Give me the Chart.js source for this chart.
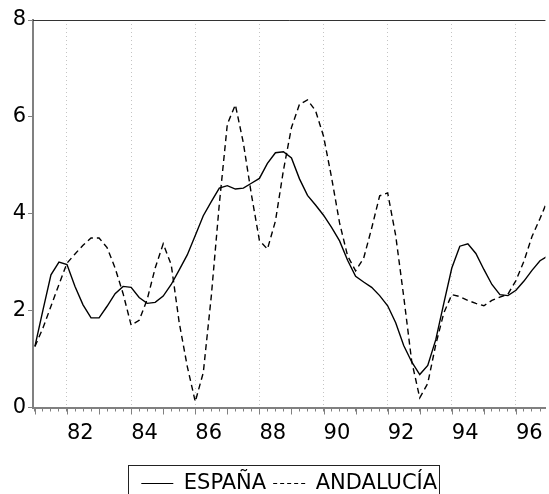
<!DOCTYPE html>
<html>
<head>
<meta charset="utf-8">
<script src="https://cdn.jsdelivr.net/npm/chart.js@4/dist/chart.umd.min.js"></script>
<style>
  html, body { margin: 0; padding: 0; background: #fff; }
  #wrap { width: 549px; height: 494px; }
</style>
</head>
<body>
<div id="wrap"><canvas id="chart"></canvas></div>
<script>
// quarterly series, first observation 1981Q1
const startYear = 1981;
const espana = [
  1.26, 2.01, 2.74, 3.00, 2.95, 2.50, 2.12, 1.85, 1.85, 2.09,
  2.35, 2.50, 2.48, 2.27, 2.15, 2.17, 2.30, 2.54, 2.84, 3.15,
  3.55, 3.96, 4.25, 4.53, 4.58, 4.51, 4.53, 4.63, 4.73, 5.04,
  5.26, 5.28, 5.15, 4.72, 4.38, 4.18, 3.97, 3.72, 3.44, 3.04,
  2.71, 2.59, 2.48, 2.31, 2.10, 1.75, 1.28, 0.94, 0.68, 0.87,
  1.40, 2.15, 2.88, 3.33, 3.38, 3.18, 2.85, 2.54, 2.33, 2.31,
  2.42, 2.61, 2.83, 3.03, 3.13
];
const andalucia = [
  1.26, 1.64, 2.09, 2.54, 2.98, 3.17, 3.35, 3.50, 3.50, 3.30,
  2.88, 2.35, 1.70, 1.80, 2.23, 2.88, 3.38, 2.95, 1.75, 0.85,
  0.12, 0.72, 2.30, 4.20, 5.85, 6.25, 5.46, 4.40, 3.45, 3.27,
  3.85, 4.90, 5.78, 6.26, 6.35, 6.13, 5.60, 4.75, 3.81, 3.13,
  2.82, 3.08, 3.70, 4.37, 4.43, 3.55, 2.29, 0.95, 0.20, 0.50,
  1.30, 1.95, 2.33, 2.29, 2.21, 2.15, 2.10, 2.21, 2.28, 2.34,
  2.62, 3.02, 3.53, 3.90, 4.30
];
const yTicks = [0, 2, 4, 6, 8];
const labelYears = [1982, 1984, 1986, 1988, 1990, 1992, 1994, 1996];
const xMin = 1980.94;
const xMax = 1996.92;

const toPoints = (arr) => arr.map((v, i) => ({ x: startYear + i / 4, y: v }));
const quarterTicks = espana.slice(0, 64).map((v, i) => ({ value: startYear + i / 4 }));

Chart.defaults.font.family = "'DejaVu Sans', sans-serif";
Chart.defaults.font.size = 21;
Chart.defaults.color = "#000";

// plot box top edge, longer year ticks, legend frame
const framePlugin = {
  id: "frame",
  afterDraw(chart) {
    const { ctx, chartArea: a, scales } = chart;
    ctx.save();
    ctx.strokeStyle = "#333";
    ctx.lineWidth = 1;
    ctx.beginPath();
    ctx.moveTo(a.left, a.top + 0.5);
    ctx.lineTo(a.right, a.top + 0.5);
    ctx.stroke();

    ctx.strokeStyle = "#808080";
    for (let yr = Math.ceil(xMin); yr <= xMax; yr++) {
      const px = Math.round(scales.x.getPixelForValue(yr)) + 0.5;
      ctx.beginPath();
      ctx.moveTo(px, a.bottom);
      ctx.lineTo(px, a.bottom + 7);
      ctx.stroke();
    }

    const boxes = chart.legend.legendHitBoxes;
    if (boxes && boxes.length) {
      const first = boxes[0];
      const last = boxes[boxes.length - 1];
      ctx.strokeStyle = "#222";
      ctx.strokeRect(
        Math.round(first.left - 13) + 0.5,
        465.5,
        Math.round(last.left + last.width - first.left + 15),
        40
      );
    }
    ctx.restore();
  },
};

new Chart(document.getElementById("chart").getContext("2d"), {
  type: "line",
  data: {
    datasets: [
      {
        label: "ESPAÑA",
        data: toPoints(espana),
        borderColor: "#000",
        backgroundColor: "#000",
        borderWidth: 1.4,
        pointRadius: 0,
        tension: 0,
      },
      {
        label: "ANDALUCÍA",
        data: toPoints(andalucia),
        borderColor: "#000",
        backgroundColor: "#000",
        borderWidth: 1.4,
        borderDash: [6, 4],
        pointRadius: 0,
        tension: 0,
      },
    ],
  },
  options: {
    responsive: true,
    maintainAspectRatio: false,
    animation: false,
    layout: { padding: { top: 20, right: 0, bottom: -10, left: 0 } },
    plugins: {
      legend: {
        position: "bottom",
        fullSize: false,
        labels: {
          usePointStyle: true,
          pointStyle: "line",
          pointStyleWidth: 32,
          padding: 7,
          color: "#000",
          font: { size: 21 },
          generateLabels: (chart) => {
            const items = Chart.defaults.plugins.legend.labels.generateLabels(chart);
            items.forEach((item) => {
              const ds = chart.data.datasets[item.datasetIndex];
              item.lineDash = ds.borderDash ? [4, 3] : [];
              item.strokeStyle = "#000";
              item.lineWidth = 1.2;
            });
            return items;
          },
        },
      },
      tooltip: { enabled: false },
    },
    scales: {
      x: {
        type: "linear",
        min: xMin,
        max: xMax,
        afterBuildTicks: (scale) => {
          scale.ticks = quarterTicks.map((t) => ({ value: t.value }));
        },
        afterFit: (scale) => {
          scale.height = 58.5;
        },
        grid: {
          drawOnChartArea: true,
          drawTicks: true,
          tickLength: 4,
          lineWidth: 1,
          color: (c) =>
            labelYears.includes(c.tick && c.tick.value) ? "#c4c4c4" : "rgba(0,0,0,0)",
          tickColor: "#808080",
        },
        border: { display: true, color: "#808080", width: 2, dash: [1, 3] },
        ticks: {
          autoSkip: false,
          maxRotation: 0,
          align: "start",
          padding: 9,
          color: "#000",
          font: { size: 21 },
          callback: (v) => (labelYears.includes(v) ? String(v % 100) : ""),
        },
      },
      y: {
        min: 0,
        max: 8,
        afterBuildTicks: (scale) => {
          scale.ticks = yTicks.map((v) => ({ value: v }));
        },
        afterFit: (scale) => {
          scale.width = 33;
        },
        grid: {
          drawOnChartArea: false,
          drawTicks: true,
          tickLength: 5,
          tickColor: "#808080",
        },
        border: { display: true, color: "#808080", width: 2 },
        ticks: {
          padding: 2,
          color: "#000",
          font: { size: 21 },
        },
      },
    },
  },
  plugins: [framePlugin],
});
</script>
</body>
</html>
